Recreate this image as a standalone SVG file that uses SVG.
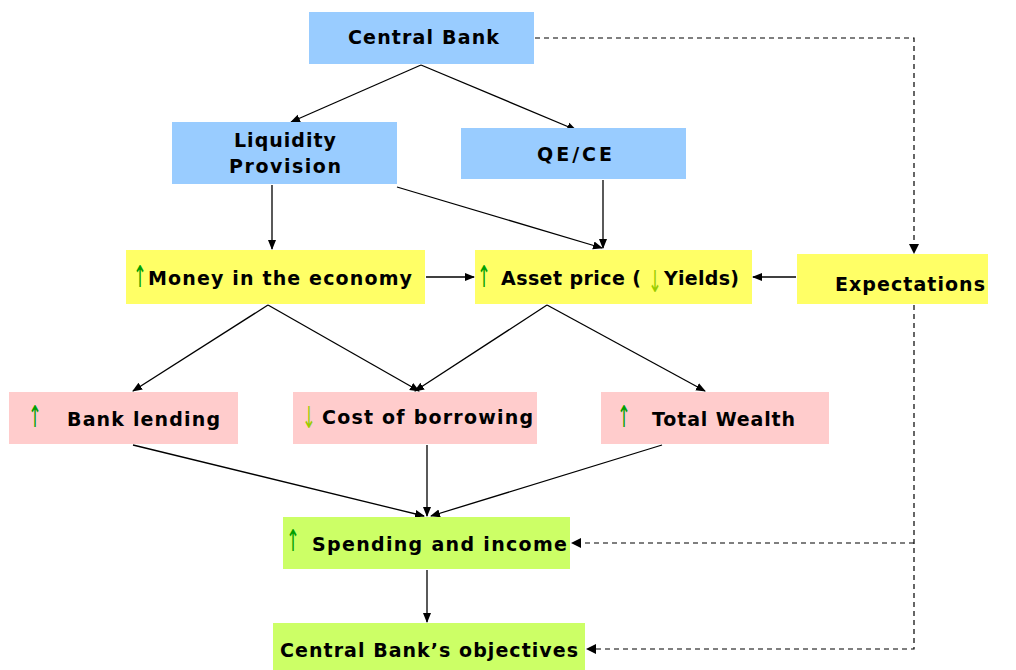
<svg xmlns="http://www.w3.org/2000/svg" width="1016" height="670" viewBox="0 0 1016 670">
<defs>
<marker id="ah" markerWidth="10" markerHeight="10" refX="9" refY="5" orient="auto" markerUnits="userSpaceOnUse">
<path d="M0,1 L10,5 L0,9 Z" fill="#000"/>
</marker>
<style>
.t{font-family:"DejaVu Sans",Verdana,sans-serif;font-weight:bold;font-size:19px;fill:#000}
.blue{fill:#99ccff}
.yel{fill:#ffff66}
.pink{fill:#ffcccc}
.grn{fill:#ccff66}
.c{stroke:#000;stroke-width:1.3;fill:none;marker-end:url(#ah)}
.d{stroke:#000;stroke-width:1.2;fill:none;stroke-dasharray:5,4}
.ar{font-family:"DejaVu Sans",sans-serif;font-size:30px;text-anchor:middle}
.up{fill:#00a000}
.dn{fill:#99cc00}
</style>
</defs>
<rect width="1016" height="670" fill="#fff"/>
<g id="connectors">
<line class="c" x1="421" y1="65" x2="291" y2="122"/>
<line class="c" x1="421" y1="65" x2="576" y2="130"/>
<line class="c" x1="272" y1="185" x2="272" y2="249"/>
<line class="c" x1="397" y1="187" x2="602" y2="248"/>
<line class="c" x1="603" y1="180" x2="603" y2="248"/>
<line class="c" x1="426" y1="277" x2="474" y2="277"/>
<line class="c" x1="796" y1="277" x2="753" y2="277"/>
<line class="c" x1="268" y1="305" x2="133" y2="391"/>
<line class="c" x1="268" y1="305" x2="419" y2="391"/>
<line class="c" x1="547" y1="305" x2="415" y2="391"/>
<line class="c" x1="547" y1="305" x2="705" y2="391"/>
<line class="c" x1="133" y1="445" x2="424" y2="516"/>
<line class="c" x1="427" y1="445" x2="427" y2="516"/>
<line class="c" x1="662" y1="445" x2="431" y2="516"/>
<line class="c" x1="427" y1="570" x2="427" y2="622"/>
<polyline class="d" points="535,38 914,38 914,246"/>
<path d="M909,244 L914,254 L919,244 Z" fill="#000"/>
<polyline class="d" points="914,305 914,649 594,649"/>
<path d="M596,644 L586,649 L596,654 Z" fill="#000"/>
<line class="d" x1="914" y1="543" x2="580" y2="543"/>
<path d="M581,538 L571,543 L581,548 Z" fill="#000"/>
</g>
<g id="central-bank">
<rect class="blue" x="309" y="12" width="225" height="52"/>
<text class="t" x="348" y="44" textLength="151">Central Bank</text>
</g>
<g id="liquidity">
<rect class="blue" x="172" y="122" width="225" height="62"/>
<text class="t" x="234" y="147" textLength="102">Liquidity</text>
<text class="t" x="229" y="173" textLength="112">Provision</text>
</g>
<g id="qece">
<rect class="blue" x="461" y="128" width="225" height="51"/>
<text class="t" x="537" y="161" textLength="75">QE/CE</text>
</g>
<g id="money">
<rect class="yel" x="126" y="250" width="299" height="54"/>
<text class="ar up" transform="translate(140,287) scale(0.55,1)">↑</text>
<text class="t" x="148" y="285" textLength="264">Money in the economy</text>
</g>
<g id="asset">
<rect class="yel" x="475" y="250" width="277" height="54"/>
<text class="ar up" transform="translate(484,287) scale(0.55,1)">↑</text>
<text class="t" x="501" y="285" textLength="140">Asset price (</text>
<text class="ar dn" transform="translate(655,292) scale(0.55,1)">↓</text>
<text class="t" x="664" y="285" textLength="75">Yields)</text>
</g>
<g id="expectations">
<rect class="yel" x="797" y="254" width="191" height="50"/>
<text class="t" x="835" y="291" textLength="150">Expectations</text>
</g>
<g id="bank-lending">
<rect class="pink" x="9" y="392" width="229" height="52"/>
<text class="ar up" transform="translate(35,427) scale(0.55,1)">↑</text>
<text class="t" x="67" y="426" textLength="153">Bank lending</text>
</g>
<g id="cost">
<rect class="pink" x="293" y="392" width="244" height="52"/>
<text class="ar dn" transform="translate(309,428) scale(0.55,1)">↓</text>
<text class="t" x="322" y="424" textLength="211">Cost of borrowing</text>
</g>
<g id="wealth">
<rect class="pink" x="601" y="392" width="228" height="52"/>
<text class="ar up" transform="translate(624,427) scale(0.55,1)">↑</text>
<text class="t" x="652" y="426" textLength="143">Total Wealth</text>
</g>
<g id="spending">
<rect class="grn" x="283" y="517" width="287" height="52"/>
<text class="ar up" transform="translate(293,551) scale(0.55,1)">↑</text>
<text class="t" x="312" y="551" textLength="255">Spending and income</text>
</g>
<g id="objectives">
<rect class="grn" x="273" y="623" width="312" height="47"/>
<text class="t" x="280" y="657" textLength="298">Central Bank’s objectives</text>
</g>
</svg>
